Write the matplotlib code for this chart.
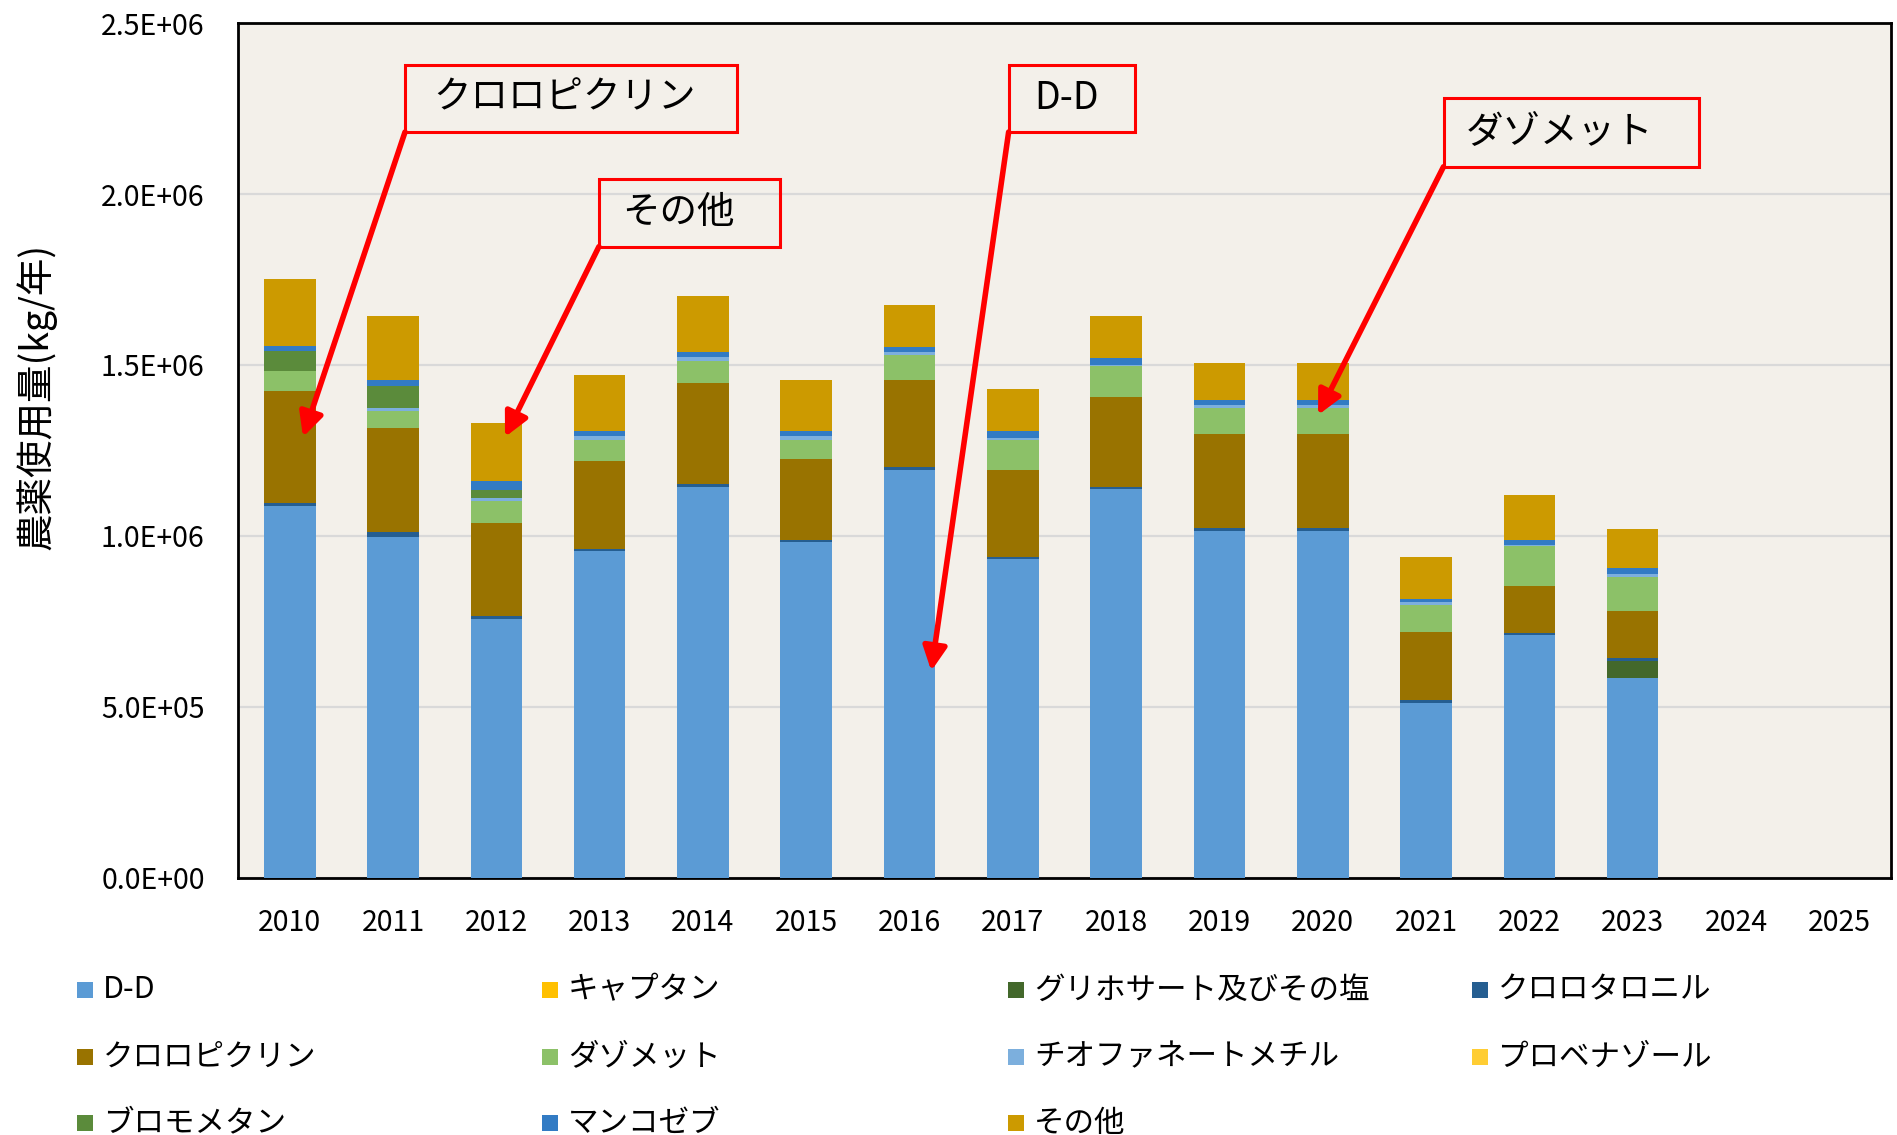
import numpy as np
import matplotlib
matplotlib.use("Agg")
import matplotlib.pyplot as plt
from matplotlib.patches import Rectangle

plt.rcParams['font.family'] = ['Noto Sans CJK JP', 'DejaVu Sans']

# data (kg/year); 2024 and 2025 have no bars
years = [str(y) for y in range(2010, 2026)]
dd        = [1088e3, 997e3, 758e3, 955e3, 1144e3, 981e3, 1193e3, 932e3, 1136e3, 1014e3, 1014e3, 513e3, 709e3, 585e3]
captan    = [0, 0, 0, 0, 0, 0, 0, 0, 0, 0, 0, 0, 0, 0]
glyphosate = [0, 0, 0, 0, 0, 0, 0, 0, 0, 0, 0, 0, 0, 50e3]
chlorothalonil = [7e3, 15e3, 7e3, 8e3, 7e3, 6e3, 8e3, 7e3, 6e3, 8e3, 8e3, 7e3, 7e3, 7e3]
chloropicrin = [328e3, 303e3, 272e3, 255e3, 295e3, 239e3, 254e3, 253e3, 264e3, 277e3, 277e3, 198e3, 139e3, 139e3]
dazomet   = [58e3, 50e3, 66e3, 64e3, 67e3, 56e3, 74e3, 90e3, 92e3, 76e3, 76e3, 80e3, 115e3, 100e3]
thiophanate = [2e3, 10e3, 7e3, 10e3, 9e3, 11e3, 9e3, 4e3, 2e3, 7e3, 7e3, 10e3, 3e3, 9e3]
probenazole = [0, 0, 0, 0, 0, 0, 0, 0, 0, 0, 0, 0, 0, 0]
bromomethane = [57e3, 64e3, 25e3, 0, 0, 0, 0, 0, 0, 0, 0, 0, 0, 0]
mancozeb  = [15e3, 17e3, 25e3, 16e3, 15e3, 15e3, 15e3, 22e3, 20e3, 15e3, 15e3, 8e3, 14e3, 15e3]
others    = [197e3, 188e3, 171e3, 164e3, 164e3, 147e3, 123e3, 123e3, 124e3, 108e3, 108e3, 122e3, 133e3, 115e3]

names = ['D-D', 'キャプタン', 'グリホサート及びその塩', 'クロロタロニル',
         'クロロピクリン', 'ダゾメット', 'チオファネートメチル', 'プロベナゾール',
         'ブロモメタン', 'マンコゼブ', 'その他']
series = [dd, captan, glyphosate, chlorothalonil, chloropicrin, dazomet,
          thiophanate, probenazole, bromomethane, mancozeb, others]
colors = ['#5B9BD5', '#FFC000', '#43682B', '#255E91', '#997300', '#8CC168',
          '#7CAFDD', '#FFCD33', '#5B8B3B', '#327BC4', '#CC9A00']

fig = plt.figure(figsize=(18.97, 11.35), dpi=100)
ax = fig.add_axes([0.1255, 0.2265, 0.8713, 0.7532])
ax.set_facecolor('#F3F0EA')

x = np.arange(len(dd))
bottom = np.zeros(len(dd))
for vals, c in zip(series, colors):
    v = np.array(vals, dtype=float)
    ax.bar(x, v, width=0.5, bottom=bottom, color=c, zorder=3)
    bottom += v

ax.set_xlim(-0.5, len(years) - 0.5)
ax.set_ylim(0, 2.5e6)
ax.set_xticks(np.arange(len(years)))
ax.set_xticklabels(years)
ax.set_yticks(np.arange(0, 2.51e6, 0.5e6))
ax.yaxis.set_major_formatter(matplotlib.ticker.FuncFormatter(lambda v, p: f"{v:.1E}"))
ax.tick_params(axis='both', length=0, labelsize=20.5)
ax.tick_params(axis='x', pad=22)
ax.tick_params(axis='y', pad=24)
ax.grid(axis='y', color='#D9D9D9', lw=1.6, zorder=0)
for s in ax.spines.values():
    s.set_linewidth(2)
    s.set_color('black')

fig.text(36 / 1897, 1 - 396 / 1135, '農薬使用量(kg/年)', rotation=90,
         ha='center', va='center', fontsize=27)

# red callouts (axes fraction): box x0, y0, x1, y1, text x, text y, arrow tip
callouts = [
    ('クロロピクリン', 0.101, 0.8725, 0.302, 0.9512, 0.1974, 0.912, (0.0393, 0.5158)),
    ('その他', 0.2183, 0.7384, 0.3278, 0.8172, 0.2667, 0.7778, (0.1615, 0.5158)),
    ('D-D', 0.4662, 0.8725, 0.5424, 0.9512, 0.5013, 0.912, (0.4194, 0.2421)),
    ('ダゾメット', 0.7293, 0.8319, 0.8841, 0.9119, 0.7995, 0.8719, (0.6534, 0.5415)),
]
for txt, x0, y0, x1, y1, tx, ty, tip in callouts:
    ax.add_patch(Rectangle((x0, y0), x1 - x0, y1 - y0, transform=ax.transAxes,
                           fill=False, edgecolor='#FF0000', lw=2.2, zorder=6))
    ax.text(tx, ty, txt, transform=ax.transAxes, ha='center', va='center',
            fontsize=27, zorder=7)
    ax.annotate('', xy=tip, xycoords='axes fraction', xytext=(x0, y0),
                textcoords='axes fraction',
                arrowprops=dict(arrowstyle='-|>,head_length=0.9,head_width=0.45',
                                color='#FF0000', lw=4, mutation_scale=16,
                                shrinkA=0, shrinkB=0), zorder=8)

# legend laid out row by row like the original
col_x = [77, 542, 1008, 1472]
row_y = [990, 1057, 1123]
for i, (n, c) in enumerate(zip(names, colors)):
    r, k = divmod(i, 4)
    px, py = col_x[k], row_y[r]
    fig.patches.append(Rectangle((px / 1897, 1 - (py + 8) / 1135), 16 / 1897, 16 / 1135,
                                 transform=fig.transFigure, facecolor=c, edgecolor='none'))
    fig.text((px + 26) / 1897, 1 - py / 1135, n, ha='left', va='center', fontsize=22)

fig.savefig('out.png', dpi=100, facecolor='white')
